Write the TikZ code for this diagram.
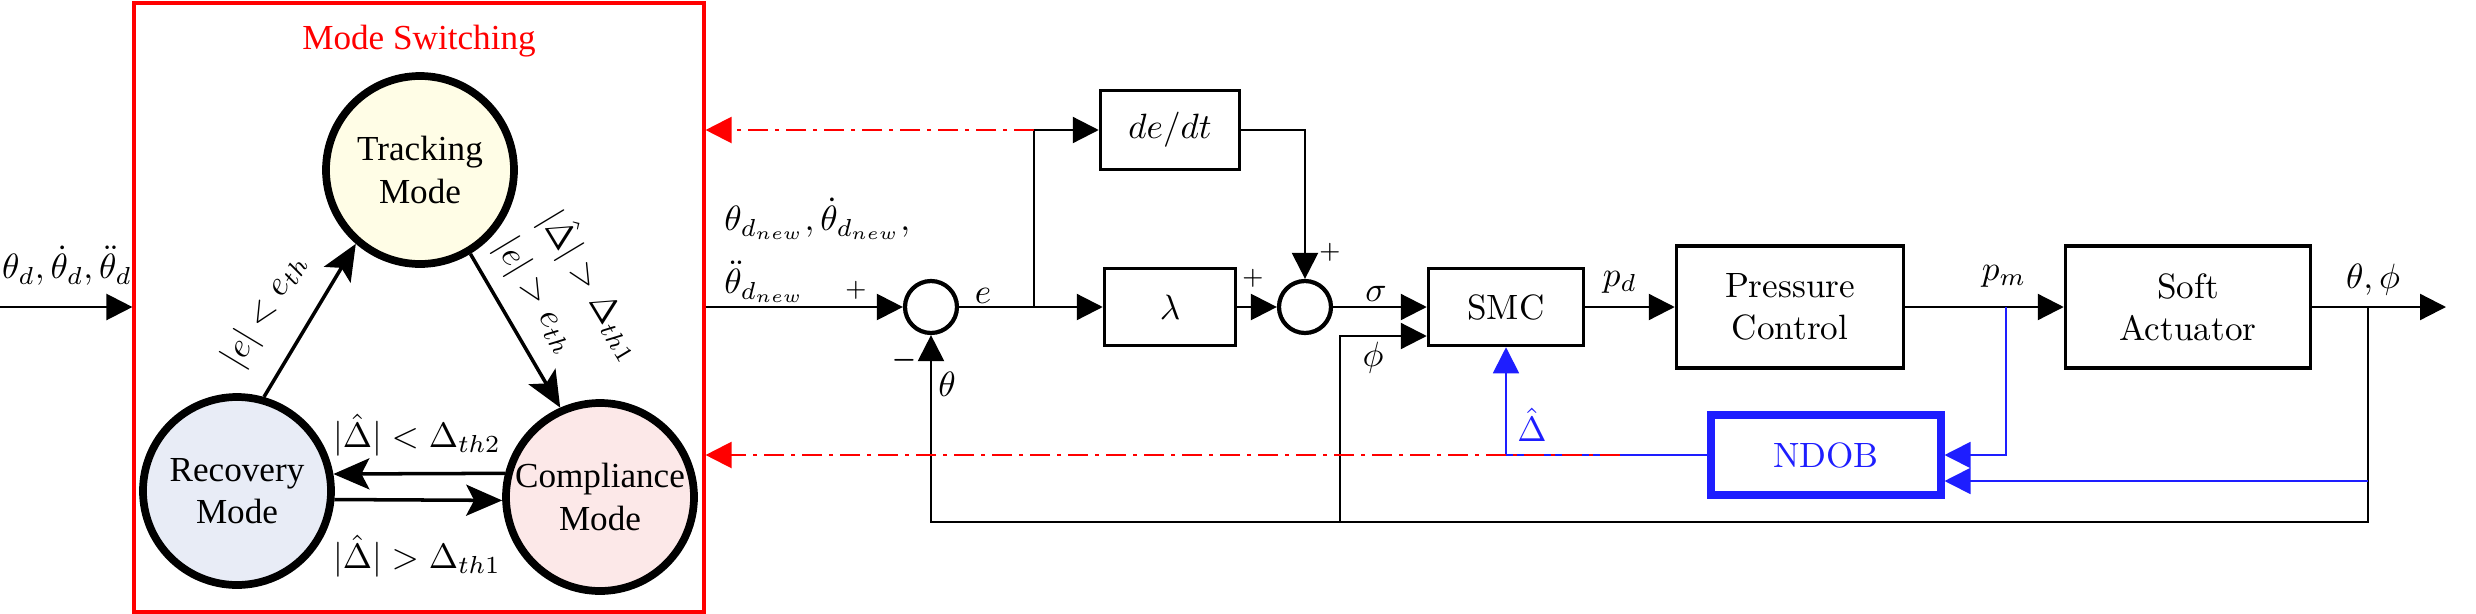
\documentclass[tikz,border=0pt]{standalone}
\usepackage{amsmath,amssymb}
\usepackage{fontspec}
\newfontfamily\statefont{Liberation Serif}
\usepackage{xcolor}
\usepackage{tikz}
\usetikzlibrary{arrows.meta,positioning}

\definecolor{trackfill}{RGB}{255,253,230}
\definecolor{recfill}{RGB}{232,236,246}
\definecolor{compfill}{RGB}{252,232,232}
\definecolor{obsblue}{RGB}{30,30,255}

\begin{document}
\begin{tikzpicture}[x=0.1mm,y=-0.1mm,>={Triangle[length=2.6mm,width=2.6mm]}]
  \tikzstyle{state}=[circle,draw,line width=2.2pt,minimum size=18.8mm,inner sep=0pt,align=center,font=\statefont]
  \tikzstyle{block}=[rectangle,draw,line width=1pt,align=center]
  \tikzstyle{sum}=[circle,draw,line width=1.2pt,minimum size=5.2mm,inner sep=0pt]
  \tikzstyle{sig}=[line width=0.65pt]
  \tikzstyle{obs}=[draw=obsblue,line width=0.5pt]
  \tikzstyle{switch}=[draw=red,line width=0.65pt,dash pattern=on 2mm off 0.7mm on 0.4mm off 0.7mm]
  \tikzstyle{trans}=[line width=1pt,-{Stealth[length=3.6mm,width=3.1mm,inset=0.8mm]}]

  \useasboundingbox (0,0) rectangle (2476,614);

  % Mode switching
  \node[draw=red,line width=0.9pt,minimum width=57mm,minimum height=60.9mm] (modebox) at (419,307.5) {};
  \node[red,font=\statefont] (title) at (419,41) {Mode Switching};
  \node[state,fill=trackfill] (tracking) at (420,170) {Tracking\\Mode};
  \node[state,fill=recfill] (recovery) at (237,491) {Recovery\\Mode};
  \node[state,fill=compfill] (compliance) at (600,497) {Compliance\\Mode};

  % Transitions
  \draw[trans] (recovery.74) -- (tracking.229);
  \draw[trans] (tracking.301) -- (compliance.114);
  \draw[trans] (compliance.166) -- (recovery.10);
  \draw[trans] (recovery.355) -- (compliance.182);
  \node (thr2) at (417,435) {$|\hat{\Delta}| < \Delta_{th2}$};
  \node (thr1) at (417,556) {$|\hat{\Delta}| > \Delta_{th1}$};
  \node[rotate=59] (elow) at (265,310) {$|e| < e_{th}$};
  \node[rotate=-59] (ehigh) at (536,296) {$|e| > e_{th}$};
  \node[rotate=-59] (dhigh) at (593,285) {$|\hat{\Delta}| > \Delta_{th1}$};

  % Reference input
  \coordinate (ref) at (0,307);
  \node (reflabel) at (67,266) {$\theta_d,\dot{\theta}_d,\ddot{\theta}_d$};
  \draw[sig,->] (ref) -- (modebox.west |- ref);

  % Blocks
  \node[sum] (sum1) at (931,307) {};
  \node[block,minimum width=13.9mm,minimum height=7.9mm] (dedt) at (1170,130) {$de/dt$};
  \node[block,minimum width=13.1mm,minimum height=7.7mm] (lambda) at (1170,307) {$\lambda$};
  \node[sum] (sum2) at (1305,307) {};
  \node[block,minimum width=15.5mm,minimum height=7.7mm] (smc) at (1506,307) {SMC};
  \node[block,minimum width=22.7mm,minimum height=12.2mm] (pressure) at (1790,307) {Pressure\\Control};
  \node[block,minimum width=24.5mm,minimum height=12.2mm] (actuator) at (2188,307) {Soft\\Actuator};
  \node[block,draw=obsblue,line width=2pt,text=obsblue,minimum width=23mm,minimum height=8mm] (ndob) at (1826,455) {NDOB};

  % Branch points
  \coordinate (ebranch) at (1034,307);
  \coordinate (etop) at (1034,130);
  \coordinate (out) at (2368,307);
  \coordinate (outend) at (2446,307);
  \coordinate (fbr) at (2368,522);
  \coordinate (phitap) at (1340,522);
  \coordinate (phiin) at (1340,336);
  \coordinate (pmtap) at (2006,307);
  \coordinate (obsin) at (2368,481);
  \coordinate (switchlow) at (1620,455);

  % Signals
  \draw[sig,->] (modebox.east |- sum1) -- (sum1);
  \draw[sig,->] (sum1) -- (lambda);
  \draw[sig,->] (ebranch) -- (etop) -- (dedt);
  \draw[sig,->] (lambda) -- (sum2);
  \draw[sig,->] (dedt) -| (sum2);
  \draw[sig,->] (sum2) -- (smc);
  \draw[sig,->] (smc) -- (pressure);
  \draw[sig,->] (pressure) -- (actuator);
  \draw[sig,->] (actuator) -- (outend);
  \draw[sig,->] (out) -- (fbr) -| (sum1);
  \draw[sig,->] (phitap) -- (phiin) -- (smc.west |- phiin);

  % Observer
  \draw[obs,->] (pmtap) |- (ndob);
  \draw[obs,->] (obsin) -- (ndob.east |- obsin);
  \draw[obs,->] (ndob) -| (smc);

  % Switching signals
  \draw[switch,->] (etop) -- (modebox.east |- etop);
  \draw[switch,->] (switchlow) -- (modebox.east |- switchlow);

  % Labels
  \node[anchor=west] (newref1) at (712,219) {$\theta_{d_{new}},\dot{\theta}_{d_{new}},$};
  \node[anchor=west] (newref2) at (712,282) {$\ddot{\theta}_{d_{new}}$};
  \node[font=\scriptsize] (plus1) at (856,290) {$+$};
  \node[font=\scriptsize] (minus1) at (904,360) {$\boldsymbol{-}$};
  \node (thetafb) at (947,384) {$\theta$};
  \node (elabel) at (983,296) {$e$};
  \node[font=\scriptsize] (plus2) at (1253,278) {$+$};
  \node[font=\scriptsize] (plus3) at (1330,252) {$+$};
  \node (sigmalabel) at (1376,294) {$\sigma$};
  \node (philabel) at (1373,358) {$\phi$};
  \node (pdlabel) at (1620,282) {$p_d$};
  \node (pmlabel) at (2004,276) {$p_m$};
  \node (outlabel) at (2373,280) {$\theta,\phi$};
  \node[text=obsblue] (deltalabel) at (1532,425) {$\hat{\Delta}$};
\end{tikzpicture}
\end{document}
